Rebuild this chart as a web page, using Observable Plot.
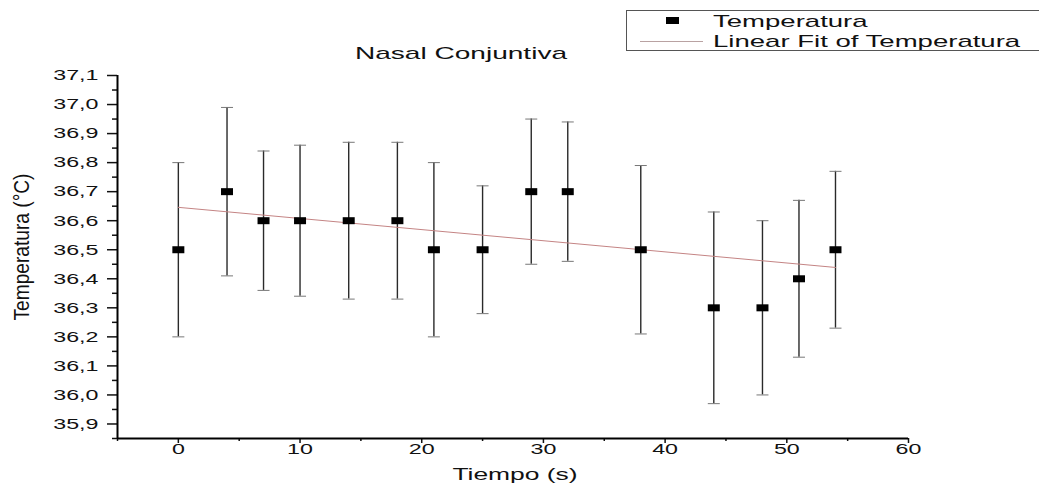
<!DOCTYPE html>
<html><head><meta charset="utf-8">
<script src="https://cdn.jsdelivr.net/npm/d3@7"></script>
<script src="https://cdn.jsdelivr.net/npm/@observablehq/plot@0.6"></script>
<style>
html,body{margin:0;padding:0;background:#fff;overflow:hidden;}
#wrap{position:relative;width:1039px;height:488px;overflow:hidden;font-family:"Liberation Sans",Arial,sans-serif;color:#111;background:#fff;}
#wrap svg{position:absolute;left:0;top:0;}
.lbl{position:absolute;white-space:nowrap;line-height:1;}
</style></head><body><div id="wrap"></div>
<script>
// Data
const tiempo      = [0, 4, 7, 10, 14, 18, 21, 25, 29, 32, 38, 44, 48, 51, 54];
const temperatura = [36.5, 36.7, 36.6, 36.6, 36.6, 36.6, 36.5, 36.5, 36.7, 36.7, 36.5, 36.3, 36.3, 36.4, 36.5];
const errorInf    = [36.20, 36.41, 36.36, 36.34, 36.33, 36.33, 36.20, 36.28, 36.45, 36.46, 36.21, 35.97, 36.00, 36.13, 36.23];
const errorSup    = [36.80, 36.99, 36.84, 36.86, 36.87, 36.87, 36.80, 36.72, 36.95, 36.94, 36.79, 36.63, 36.60, 36.67, 36.77];
const ajusteX     = [0, 54];
const ajusteY     = [36.646, 36.439];
const xTicks      = [0, 10, 20, 30, 40, 50, 60];
const xMinorTicks = [-5, 5, 15, 25, 35, 45, 55];
const yTicks      = [35.9, 36.0, 36.1, 36.2, 36.3, 36.4, 36.5, 36.6, 36.7, 36.8, 36.9, 37.0, 37.1];
const yMinorTicks = [35.85, 35.95, 36.05, 36.15, 36.25, 36.35, 36.45, 36.55, 36.65, 36.75, 36.85, 36.95, 37.05];
const titulo = "Nasal Conjuntiva";
const etiquetaX = "Tiempo (s)";
const etiquetaY = "Temperatura (°C)";
const leyenda = ["Temperatura", "Linear Fit of Temperatura"];

const S = 1.55; // horizontal text stretch seen in the reference
const data = tiempo.map((t, i) => ({t, v: temperatura[i], lo: errorInf[i], hi: errorSup[i]}));
const fit = ajusteX.map((t, i) => ({t, v: ajusteY[i]}));
const fmt = d => d.toFixed(1).replace(".", ",");
const rectSym = {draw(c) { c.rect(-6, -3.5, 12, 7); }};
const capSym = {draw(c) { c.moveTo(-6, 0); c.lineTo(6, 0); }};

const chart = Plot.plot({
  width: 1039, height: 488,
  marginLeft: 117, marginRight: 131, marginTop: 75, marginBottom: 50,
  style: {fontFamily: "Liberation Sans, Arial, sans-serif", fontSize: "15px", color: "#111", background: "transparent"},
  x: {domain: [-5, 60], label: null},
  y: {domain: [35.85, 37.1], label: null},
  marks: [
    Plot.axisY({ticks: yMinorTicks, tickSize: 5, tickFormat: () => "", label: null, strokeWidth: 1.5}),
    Plot.axisY({ticks: yTicks, tickSize: 10, tickPadding: 9, tickFormat: fmt, label: null, strokeWidth: 1.5}),
    Plot.axisX({ticks: xMinorTicks, tickSize: 3, tickFormat: () => "", label: null, strokeWidth: 1.5}),
    Plot.axisX({ticks: xTicks, tickSize: 5, tickPadding: 0, tickFormat: d => String(d), label: null, strokeWidth: 1.5}),
    Plot.ruleX([-5], {stroke: "#000", strokeWidth: 2}),
    Plot.ruleY([35.85], {stroke: "#000", strokeWidth: 2}),
    Plot.ruleX(data, {x: "t", y1: "lo", y2: "hi", stroke: "#2a2a2a", strokeWidth: 1.4}),
    Plot.dot(data, {x: "t", y: "lo", symbol: capSym, stroke: "#777", strokeWidth: 1, fill: "none"}),
    Plot.dot(data, {x: "t", y: "hi", symbol: capSym, stroke: "#777", strokeWidth: 1, fill: "none"}),
    Plot.line(fit, {x: "t", y: "v", stroke: "#c48484", strokeWidth: 1}),
    Plot.dot(data, {x: "t", y: "v", symbol: rectSym, fill: "#000", stroke: "none"})
  ]
});

// stretch tick labels horizontally, as in the reference
chart.querySelectorAll("text").forEach(t => {
  const tr = t.getAttribute("transform") || "";
  const x = parseFloat(t.getAttribute("x")) || 0;
  t.setAttribute("transform", `${tr} translate(${x},0) scale(${S},1) translate(${-x},0)`);
});

const wrap = document.getElementById("wrap");
wrap.appendChild(chart);

function addLabel(text, css, transform, origin) {
  const d = document.createElement("div");
  d.className = "lbl";
  d.textContent = text;
  Object.assign(d.style, css);
  d.style.transform = transform;
  d.style.transformOrigin = origin || "center center";
  wrap.appendChild(d);
  return d;
}
// title
addLabel(titulo, {left: "461px", top: "45px", fontSize: "17px"}, `translateX(-50%) scaleX(1.65)`);
// x label
addLabel(etiquetaX, {left: "515px", top: "467px", fontSize: "16px"}, `translateX(-50%) scaleX(1.65)`);
// y label (condensed look)
addLabel(etiquetaY, {left: "22px", top: "247px", fontSize: "22px"}, `translate(-50%,-50%) rotate(-90deg) scale(0.87,1)`);

// legend
const box = document.createElement("div");
Object.assign(box.style, {position: "absolute", left: "626px", top: "10px", width: "430px", height: "41px", border: "1px solid #555", boxSizing: "border-box"});
wrap.appendChild(box);
const mk = document.createElement("div");
Object.assign(mk.style, {position: "absolute", left: "666px", top: "17px", width: "13px", height: "7px", background: "#000"});
wrap.appendChild(mk);
const ln = document.createElement("div");
Object.assign(ln.style, {position: "absolute", left: "640px", top: "41px", width: "63px", height: "1px", background: "#b9a2a2"});
wrap.appendChild(ln);
addLabel(leyenda[0], {left: "713px", top: "13px", fontSize: "17px"}, `scaleX(1.62)`, "left center");
addLabel(leyenda[1], {left: "713px", top: "33px", fontSize: "17px"}, `scaleX(1.62)`, "left center");
</script></body></html>
